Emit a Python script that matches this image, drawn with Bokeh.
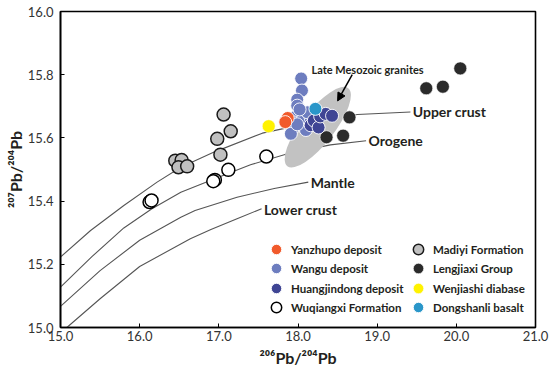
from bokeh.plotting import figure
from bokeh.models import (Legend, LegendItem, FixedTicker, Range1d, Arrow, NormalHead,
                          CustomJSTickFormatter)
from bokeh.embed import file_html
from bokeh.resources import INLINE
from bokeh.core.properties import value

# ---------------- data ----------------
x_ticks = [15.0, 16.0, 17.0, 18.0, 19.0, 20.0, 21.0]
y_ticks = [15.0, 15.2, 15.4, 15.6, 15.8, 16.0]

# Growth curves (Zartman & Doe)
upper_x = [15.0, 15.38, 15.8, 16.22, 16.52, 16.94, 17.55, 18.2, 18.75, 19.42]
upper_y = [15.223, 15.307, 15.386, 15.46, 15.507, 15.555, 15.615, 15.65, 15.674, 15.682]
orogene_x = [15.0, 15.4, 15.8, 16.15, 16.52, 16.94, 17.4, 17.9, 18.41, 18.86]
orogene_y = [15.128, 15.225, 15.315, 15.375, 15.428, 15.47, 15.515, 15.552, 15.578, 15.591]
mantle_x = [15.0, 15.5, 16.0, 16.52, 16.7, 17.23, 17.7, 18.13]
mantle_y = [15.067, 15.18, 15.276, 15.349, 15.37, 15.412, 15.44, 15.46]
lower_x = [15.08, 15.5, 16.0, 16.64, 16.9, 17.23, 17.54]
lower_y = [15.0, 15.091, 15.193, 15.281, 15.31, 15.344, 15.376]

curve_labels = ["Upper crust", "Orogene", "Mantle", "Lower crust"]
curve_label_x = [19.45, 18.89, 18.16, 17.57]
curve_label_y = [15.683, 15.591, 15.46, 15.375]

# Late Mesozoic granites field (centre)
field_x = [18.25]
field_y = [15.634]
field_label = ["Late Mesozoic granites"]
field_label_x = [18.17]
field_label_y = [15.818]
arrow_from = (18.685, 15.80)
arrow_to = (18.50, 15.717)

# Samples
yanzhupo_x = [17.87, 17.84]
yanzhupo_y = [15.663, 15.650]
wangu_x = [18.04, 18.05, 17.99, 17.99, 17.97, 17.95, 17.93, 18.05, 18.10, 18.16, 18.12, 17.91, 17.99, 18.02]
wangu_y = [15.788, 15.750, 15.721, 15.702, 15.667, 15.649, 15.628, 15.655, 15.625, 15.663, 15.681, 15.613, 15.643, 15.690]
huang_x = [18.16, 18.20, 18.26, 18.28, 18.35, 18.43]
huang_y = [15.640, 15.655, 15.633, 15.668, 15.676, 15.670]
wuq_x = [17.60, 17.12, 16.95, 16.93, 16.125, 16.15]
wuq_y = [15.541, 15.499, 15.467, 15.463, 15.397, 15.402]
madiyi_x = [17.06, 17.15, 16.98, 17.02, 16.45, 16.53, 16.49, 16.60]
madiyi_y = [15.674, 15.621, 15.597, 15.547, 15.528, 15.530, 15.507, 15.510]
leng_x = [20.05, 19.83, 19.62, 18.65, 18.57, 18.36]
leng_y = [15.820, 15.762, 15.757, 15.665, 15.607, 15.602]
wenj_x = [17.63]
wenj_y = [15.637]
dong_x = [18.22]
dong_y = [15.692]

# ---------------- figure ----------------
p = figure(width=550, height=371, x_range=Range1d(15.0, 21.0), y_range=Range1d(15.0, 16.0),
           output_backend="svg", toolbar_location=None,
           min_border_left=60, min_border_right=15, min_border_top=11, min_border_bottom=44,
           background_fill_color="white", border_fill_color="white")
p.grid.visible = False
p.outline_line_color = "black"
p.outline_line_width = 1.6
p.outline_line_alpha = 1

fmt = CustomJSTickFormatter(code="return tick.toFixed(1)")
for ax, ticks in ((p.xaxis[0], x_ticks), (p.yaxis[0], y_ticks)):
    ax.ticker = FixedTicker(ticks=ticks)
    ax.formatter = fmt
    ax.axis_line_color = "black"
    ax.axis_line_width = 1.6
    ax.major_tick_in = 4
    ax.major_tick_out = 0
    ax.major_tick_line_color = "black"
    ax.minor_tick_in = 0
    ax.minor_tick_out = 0
    ax.major_label_text_font = "Lato"
    ax.major_label_text_font_size = "13px"
    ax.major_label_text_color = "#333333"
    ax.axis_label_text_font = "Lato"
    ax.axis_label_text_font_style = "bold"
    ax.axis_label_text_font_size = "16px"
    ax.axis_label_text_color = "#231f20"

p.xaxis.axis_label = "²⁰⁶Pb/²⁰⁴Pb"
p.yaxis.axis_label = "²⁰⁷Pb/²⁰⁴Pb"
p.xaxis.major_label_standoff = 3
p.xaxis.axis_label_standoff = 4
p.yaxis.major_label_standoff = 7
p.yaxis.axis_label_standoff = 0

# curves
curve_color = "#555555"
for cx, cy in ((upper_x, upper_y), (orogene_x, orogene_y), (mantle_x, mantle_y), (lower_x, lower_y)):
    p.line(cx, cy, line_color=curve_color, line_width=1.1)

# granite field
p.ellipse(x=field_x, y=field_y, width=99, height=33, angle=52.0, angle_units="deg",
          width_units="screen", height_units="screen", fill_color="#c2c2c2", line_color=None)

# labels
p.text(x=curve_label_x, y=curve_label_y, text=curve_labels, text_font=value("Lato"),
       text_font_style="bold", text_font_size="14px", text_baseline="middle",
       text_align="left", text_color="#231f20")
p.text(x=field_label_x, y=field_label_y, text=field_label, text_font=value("Lato"),
       text_font_style="bold", text_font_size="11px", text_baseline="middle",
       text_align="left", text_color="#231f20")
p.add_layout(Arrow(end=NormalHead(size=8, fill_color="black", line_color="black"),
                   x_start=arrow_from[0], y_start=arrow_from[1],
                   x_end=arrow_to[0], y_end=arrow_to[1],
                   line_color="black", line_width=1.5))

S = 13
r_wuq = p.scatter(wuq_x, wuq_y, size=S, fill_color="white", line_color="black", line_width=1.5)
r_mad = p.scatter(madiyi_x, madiyi_y, size=S, fill_color="#c0c0c0", line_color="#1a1a1a", line_width=1.5)
r_leng = p.scatter(leng_x, leng_y, size=S, fill_color="#2b2b2b", line_color="white", line_width=0.6)
r_wangu = p.scatter(wangu_x, wangu_y, size=S, fill_color="#6d7dbf", line_color="white", line_width=0.9)
r_huang = p.scatter(huang_x, huang_y, size=S, fill_color="#3f4594", line_color="white", line_width=0.9)
r_yan = p.scatter(yanzhupo_x, yanzhupo_y, size=S, fill_color="#f15a2b", line_color="white", line_width=0.9)
r_wenj = p.scatter(wenj_x, wenj_y, size=S, fill_color="#fff200", line_color="white", line_width=0.6)
r_dong = p.scatter(dong_x, dong_y, size=S, fill_color="#2a96c9", line_color="white", line_width=0.9)

# legend: two columns of four rows, one single-item legend per entry
legend_col1 = [("Yanzhupo deposit", r_yan), ("Wangu deposit", r_wangu),
               ("Huangjindong deposit", r_huang), ("Wuqiangxi Formation", r_wuq)]
legend_col2 = [("Madiyi Formation", r_mad), ("Lengjiaxi Group", r_leng),
               ("Wenjiashi diabase", r_wenj), ("Dongshanli basalt", r_dong)]
row_offsets = [65, 46, 26, 7]   # px above the frame bottom
col_offsets = [203, 345]        # px right of the frame left

for col, entries in zip(col_offsets, (legend_col1, legend_col2)):
    for (label, rend), row in zip(entries, row_offsets):
        lg = Legend(items=[LegendItem(label=label, renderers=[rend])],
                    location=(col, row), orientation="vertical",
                    glyph_width=26, glyph_height=26, spacing=0, padding=0, margin=0,
                    label_standoff=2, border_line_alpha=0, background_fill_alpha=0,
                    label_text_font="Lato", label_text_font_style="bold",
                    label_text_font_size="11.5px", label_text_color="#231f20")
        p.add_layout(lg)

open("out.html", "w").write(file_html(p, INLINE))
